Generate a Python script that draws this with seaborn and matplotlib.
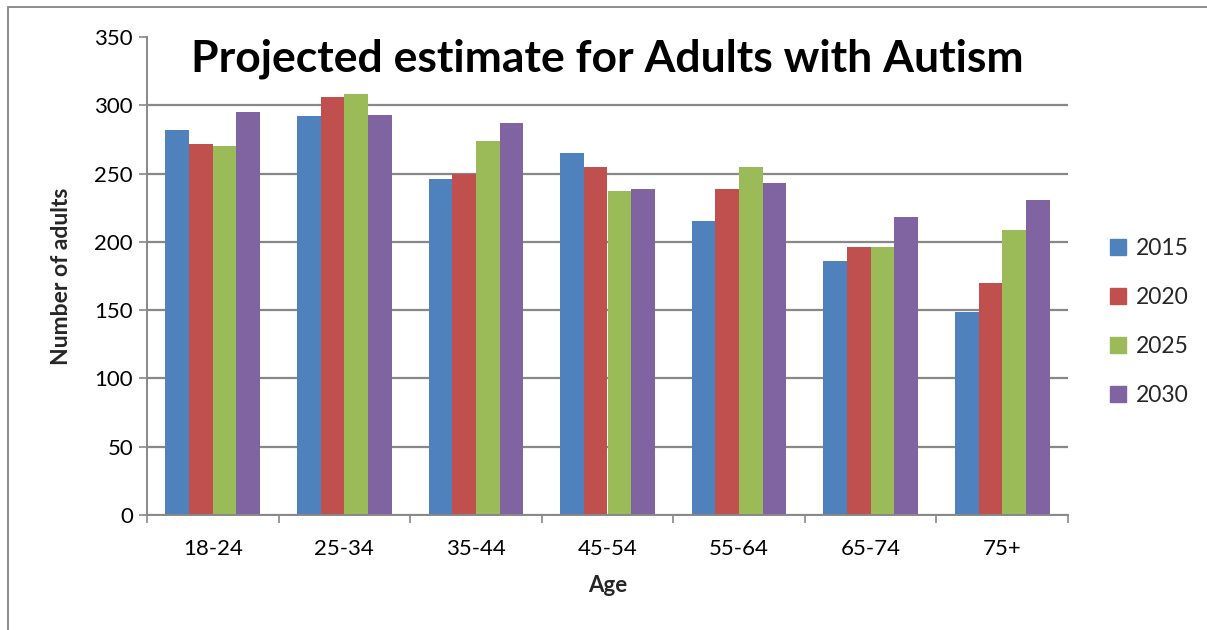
import matplotlib
matplotlib.use("Agg")
import matplotlib.pyplot as plt
import matplotlib.patches as mpatches
import matplotlib.lines as mlines
from matplotlib.ticker import FixedLocator
import pandas as pd
import seaborn as sns

# Age bands and projected counts per year
age_groups = ["18-24", "25-34", "35-44", "45-54", "55-64", "65-74", "75+"]
years = ["2015", "2020", "2025", "2030"]
adults_2015 = [282, 292, 246, 265, 215, 186, 149]
adults_2020 = [272, 306, 250, 255, 239, 196, 170]
adults_2025 = [270, 308, 274, 237, 255, 196, 209]
adults_2030 = [295, 293, 287, 239, 243, 218, 231]
y_ticks = [0, 50, 100, 150, 200, 250, 300, 350]

series = {"2015": adults_2015, "2020": adults_2020,
          "2025": adults_2025, "2030": adults_2030}
rows = [(age, yr, val) for yr in years for age, val in zip(age_groups, series[yr])]
df = pd.DataFrame(rows, columns=["Age", "Year", "Adults"])

palette = {"2015": "#4F81BD", "2020": "#C0504D", "2025": "#9BBB59", "2030": "#8064A2"}

sns.set_theme(style="white")
plt.rcParams["font.family"] = ["Lato", "DejaVu Sans"]

fig = plt.figure(figsize=(12.07, 6.30), dpi=100)
ax = fig.add_axes([147 / 1207, 1 - 515 / 630, (1068 - 147) / 1207, (515 - 37) / 630])

sns.barplot(data=df, x="Age", y="Adults", hue="Year", hue_order=years,
            order=age_groups, palette=palette, width=0.72, gap=0,
            saturation=1, linewidth=0, ax=ax, legend=False)

ax.set_xlim(-0.5, len(age_groups) - 0.5)
ax.set_ylim(0, 350)
ax.set_yticks(y_ticks)
ax.set_yticklabels([str(t) for t in y_ticks], fontsize=16, color="black")
ax.set_xticks(range(len(age_groups)))
ax.set_xticklabels(age_groups, fontsize=16, color="black")

# Tick marks sit on category boundaries, labels at category centres
ax.xaxis.set_minor_locator(FixedLocator([i - 0.5 for i in range(len(age_groups) + 1)]))
ax.tick_params(axis="x", which="major", length=0, pad=17)
ax.tick_params(axis="x", which="minor", length=6, width=1.2, color="#888888", direction="out", bottom=True)
ax.tick_params(axis="y", which="major", length=6, width=1.2, color="#888888", direction="out", left=True, pad=4)

grey = "#888888"
ax.yaxis.grid(True, color=grey, linewidth=1.6)
ax.set_axisbelow(True)
ax.get_ygridlines()[-1].set_visible(False)
for side in ["top", "right"]:
    ax.spines[side].set_visible(False)
for side in ["left", "bottom"]:
    ax.spines[side].set_color(grey)
    ax.spines[side].set_linewidth(1.4)

ax.set_xlabel("Age", fontsize=16, fontweight="bold", labelpad=12)
ax.set_ylabel("Number of adults", fontsize=16.5, fontweight="bold", labelpad=16)

ax.text(0.5, 0.955, "Projected estimate for Adults with Autism", transform=ax.transAxes,
        ha="center", va="center", fontsize=32, fontweight="bold", color="black")

handles = [mpatches.Patch(color=palette[y], label=y) for y in years]
fig.legend(handles=handles, loc="center left", bbox_to_anchor=(1089 / 1207, 1 - 322 / 630),
           frameon=False, fontsize=16.5, handlelength=0.7, handleheight=0.7,
           handletextpad=0.45, labelspacing=1.22)

# Outer chart frame: left and top edges
frame_color = "#8c8c8c"
fig.add_artist(mlines.Line2D([8 / 1207, 8 / 1207], [0, 1 - 7 / 630],
                             transform=fig.transFigure, color=frame_color, linewidth=1.4))
fig.add_artist(mlines.Line2D([8 / 1207, 1], [1 - 7 / 630, 1 - 7 / 630],
                             transform=fig.transFigure, color=frame_color, linewidth=1.4))

fig.savefig("out.png", dpi=100, facecolor="white")
